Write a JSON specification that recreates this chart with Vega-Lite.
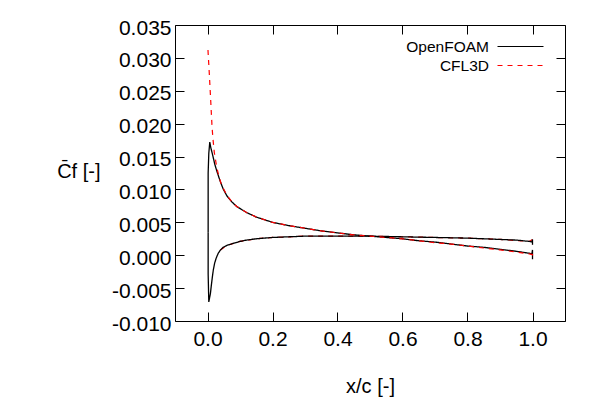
{
  "$schema": "https://vega.github.io/schema/vega-lite/v6.json",
  "width": 390,
  "height": 296,
  "autosize": "none",
  "padding": {"left": 175, "top": 25, "right": 35, "bottom": 79},
  "background": "white",
  "data": {"values": [
    {"src": "OpenFOAM", "surf": "upper", "i": 0, "x": 0.002, "cf": 0.0035},
    {"src": "OpenFOAM", "surf": "upper", "i": 1, "x": 0.002, "cf": 0.0125},
    {"src": "OpenFOAM", "surf": "upper", "i": 2, "x": 0.004, "cf": 0.0155},
    {"src": "OpenFOAM", "surf": "upper", "i": 3, "x": 0.007, "cf": 0.0172},
    {"src": "OpenFOAM", "surf": "upper", "i": 4, "x": 0.010, "cf": 0.0164},
    {"src": "OpenFOAM", "surf": "upper", "i": 5, "x": 0.014, "cf": 0.0156},
    {"src": "OpenFOAM", "surf": "upper", "i": 6, "x": 0.017, "cf": 0.0150},
    {"src": "OpenFOAM", "surf": "upper", "i": 7, "x": 0.022, "cf": 0.0139},
    {"src": "OpenFOAM", "surf": "upper", "i": 8, "x": 0.028, "cf": 0.0129},
    {"src": "OpenFOAM", "surf": "upper", "i": 9, "x": 0.038, "cf": 0.0114},
    {"src": "OpenFOAM", "surf": "upper", "i": 10, "x": 0.048, "cf": 0.0101},
    {"src": "OpenFOAM", "surf": "upper", "i": 11, "x": 0.06, "cf": 0.0090},
    {"src": "OpenFOAM", "surf": "upper", "i": 12, "x": 0.075, "cf": 0.0081},
    {"src": "OpenFOAM", "surf": "upper", "i": 13, "x": 0.09, "cf": 0.0074},
    {"src": "OpenFOAM", "surf": "upper", "i": 14, "x": 0.12, "cf": 0.0065},
    {"src": "OpenFOAM", "surf": "upper", "i": 15, "x": 0.15, "cf": 0.0058},
    {"src": "OpenFOAM", "surf": "upper", "i": 16, "x": 0.2, "cf": 0.0050},
    {"src": "OpenFOAM", "surf": "upper", "i": 17, "x": 0.25, "cf": 0.0045},
    {"src": "OpenFOAM", "surf": "upper", "i": 18, "x": 0.3, "cf": 0.0041},
    {"src": "OpenFOAM", "surf": "upper", "i": 19, "x": 0.35, "cf": 0.0037},
    {"src": "OpenFOAM", "surf": "upper", "i": 20, "x": 0.4, "cf": 0.0034},
    {"src": "OpenFOAM", "surf": "upper", "i": 21, "x": 0.45, "cf": 0.0031},
    {"src": "OpenFOAM", "surf": "upper", "i": 22, "x": 0.5, "cf": 0.0029},
    {"src": "OpenFOAM", "surf": "upper", "i": 23, "x": 0.55, "cf": 0.0027},
    {"src": "OpenFOAM", "surf": "upper", "i": 24, "x": 0.6, "cf": 0.0025},
    {"src": "OpenFOAM", "surf": "upper", "i": 25, "x": 0.65, "cf": 0.0022},
    {"src": "OpenFOAM", "surf": "upper", "i": 26, "x": 0.7, "cf": 0.0020},
    {"src": "OpenFOAM", "surf": "upper", "i": 27, "x": 0.75, "cf": 0.0017},
    {"src": "OpenFOAM", "surf": "upper", "i": 28, "x": 0.8, "cf": 0.0014},
    {"src": "OpenFOAM", "surf": "upper", "i": 29, "x": 0.85, "cf": 0.0012},
    {"src": "OpenFOAM", "surf": "upper", "i": 30, "x": 0.9, "cf": 0.0009},
    {"src": "OpenFOAM", "surf": "upper", "i": 31, "x": 0.95, "cf": 0.0006},
    {"src": "OpenFOAM", "surf": "upper", "i": 32, "x": 0.99, "cf": 0.0003},
    {"src": "OpenFOAM", "surf": "upper", "i": 33, "x": 0.998, "cf": 0.0002},
    {"src": "OpenFOAM", "surf": "upper", "i": 34, "x": 1.0, "cf": 0.0008},
    {"src": "OpenFOAM", "surf": "upper", "i": 35, "x": 1.0, "cf": -0.0006},
    {"src": "OpenFOAM", "surf": "lower", "i": 0, "x": 0.002, "cf": 0.0035},
    {"src": "OpenFOAM", "surf": "lower", "i": 1, "x": 0.002, "cf": -0.0028},
    {"src": "OpenFOAM", "surf": "lower", "i": 2, "x": 0.003, "cf": -0.0050},
    {"src": "OpenFOAM", "surf": "lower", "i": 3, "x": 0.004, "cf": -0.0071},
    {"src": "OpenFOAM", "surf": "lower", "i": 4, "x": 0.006, "cf": -0.0066},
    {"src": "OpenFOAM", "surf": "lower", "i": 5, "x": 0.009, "cf": -0.0058},
    {"src": "OpenFOAM", "surf": "lower", "i": 6, "x": 0.012, "cf": -0.0045},
    {"src": "OpenFOAM", "surf": "lower", "i": 7, "x": 0.015, "cf": -0.0033},
    {"src": "OpenFOAM", "surf": "lower", "i": 8, "x": 0.018, "cf": -0.0022},
    {"src": "OpenFOAM", "surf": "lower", "i": 9, "x": 0.022, "cf": -0.0012},
    {"src": "OpenFOAM", "surf": "lower", "i": 10, "x": 0.027, "cf": -0.0004},
    {"src": "OpenFOAM", "surf": "lower", "i": 11, "x": 0.033, "cf": 0.0003},
    {"src": "OpenFOAM", "surf": "lower", "i": 12, "x": 0.04, "cf": 0.0008},
    {"src": "OpenFOAM", "surf": "lower", "i": 13, "x": 0.048, "cf": 0.0012},
    {"src": "OpenFOAM", "surf": "lower", "i": 14, "x": 0.06, "cf": 0.0015},
    {"src": "OpenFOAM", "surf": "lower", "i": 15, "x": 0.079, "cf": 0.0018},
    {"src": "OpenFOAM", "surf": "lower", "i": 16, "x": 0.1, "cf": 0.0021},
    {"src": "OpenFOAM", "surf": "lower", "i": 17, "x": 0.12, "cf": 0.0023},
    {"src": "OpenFOAM", "surf": "lower", "i": 18, "x": 0.15, "cf": 0.0025},
    {"src": "OpenFOAM", "surf": "lower", "i": 19, "x": 0.2, "cf": 0.0027},
    {"src": "OpenFOAM", "surf": "lower", "i": 20, "x": 0.25, "cf": 0.0028},
    {"src": "OpenFOAM", "surf": "lower", "i": 21, "x": 0.3, "cf": 0.0029},
    {"src": "OpenFOAM", "surf": "lower", "i": 22, "x": 0.4, "cf": 0.0029},
    {"src": "OpenFOAM", "surf": "lower", "i": 23, "x": 0.5, "cf": 0.0029},
    {"src": "OpenFOAM", "surf": "lower", "i": 24, "x": 0.6, "cf": 0.0028},
    {"src": "OpenFOAM", "surf": "lower", "i": 25, "x": 0.7, "cf": 0.0027},
    {"src": "OpenFOAM", "surf": "lower", "i": 26, "x": 0.8, "cf": 0.0026},
    {"src": "OpenFOAM", "surf": "lower", "i": 27, "x": 0.9, "cf": 0.0024},
    {"src": "OpenFOAM", "surf": "lower", "i": 28, "x": 0.95, "cf": 0.0023},
    {"src": "OpenFOAM", "surf": "lower", "i": 29, "x": 0.99, "cf": 0.0021},
    {"src": "OpenFOAM", "surf": "lower", "i": 30, "x": 0.998, "cf": 0.0020},
    {"src": "OpenFOAM", "surf": "lower", "i": 31, "x": 1.0, "cf": 0.0024},
    {"src": "OpenFOAM", "surf": "lower", "i": 32, "x": 1.0, "cf": 0.0016},
    {"src": "CFL3D", "surf": "upper", "i": 0, "x": 0.0015, "cf": 0.0312},
    {"src": "CFL3D", "surf": "upper", "i": 1, "x": 0.002, "cf": 0.0307},
    {"src": "CFL3D", "surf": "upper", "i": 2, "x": 0.004, "cf": 0.0290},
    {"src": "CFL3D", "surf": "upper", "i": 3, "x": 0.006, "cf": 0.0272},
    {"src": "CFL3D", "surf": "upper", "i": 4, "x": 0.008, "cf": 0.0253},
    {"src": "CFL3D", "surf": "upper", "i": 5, "x": 0.010, "cf": 0.0234},
    {"src": "CFL3D", "surf": "upper", "i": 6, "x": 0.012, "cf": 0.0214},
    {"src": "CFL3D", "surf": "upper", "i": 7, "x": 0.014, "cf": 0.0195},
    {"src": "CFL3D", "surf": "upper", "i": 8, "x": 0.017, "cf": 0.0176},
    {"src": "CFL3D", "surf": "upper", "i": 9, "x": 0.021, "cf": 0.0156},
    {"src": "CFL3D", "surf": "upper", "i": 10, "x": 0.028, "cf": 0.0135},
    {"src": "CFL3D", "surf": "upper", "i": 11, "x": 0.035, "cf": 0.0120},
    {"src": "CFL3D", "surf": "upper", "i": 12, "x": 0.043, "cf": 0.0107},
    {"src": "CFL3D", "surf": "upper", "i": 13, "x": 0.06, "cf": 0.0091},
    {"src": "CFL3D", "surf": "upper", "i": 14, "x": 0.075, "cf": 0.0081},
    {"src": "CFL3D", "surf": "upper", "i": 15, "x": 0.09, "cf": 0.0074},
    {"src": "CFL3D", "surf": "upper", "i": 16, "x": 0.12, "cf": 0.0065},
    {"src": "CFL3D", "surf": "upper", "i": 17, "x": 0.15, "cf": 0.0058},
    {"src": "CFL3D", "surf": "upper", "i": 18, "x": 0.2, "cf": 0.0050},
    {"src": "CFL3D", "surf": "upper", "i": 19, "x": 0.25, "cf": 0.0045},
    {"src": "CFL3D", "surf": "upper", "i": 20, "x": 0.3, "cf": 0.0041},
    {"src": "CFL3D", "surf": "upper", "i": 21, "x": 0.35, "cf": 0.0037},
    {"src": "CFL3D", "surf": "upper", "i": 22, "x": 0.4, "cf": 0.0034},
    {"src": "CFL3D", "surf": "upper", "i": 23, "x": 0.45, "cf": 0.0031},
    {"src": "CFL3D", "surf": "upper", "i": 24, "x": 0.5, "cf": 0.0029},
    {"src": "CFL3D", "surf": "upper", "i": 25, "x": 0.55, "cf": 0.0027},
    {"src": "CFL3D", "surf": "upper", "i": 26, "x": 0.6, "cf": 0.0025},
    {"src": "CFL3D", "surf": "upper", "i": 27, "x": 0.65, "cf": 0.0022},
    {"src": "CFL3D", "surf": "upper", "i": 28, "x": 0.7, "cf": 0.0019},
    {"src": "CFL3D", "surf": "upper", "i": 29, "x": 0.75, "cf": 0.0017},
    {"src": "CFL3D", "surf": "upper", "i": 30, "x": 0.8, "cf": 0.0014},
    {"src": "CFL3D", "surf": "upper", "i": 31, "x": 0.85, "cf": 0.0011},
    {"src": "CFL3D", "surf": "upper", "i": 32, "x": 0.9, "cf": 0.0008},
    {"src": "CFL3D", "surf": "upper", "i": 33, "x": 0.95, "cf": 0.0005},
    {"src": "CFL3D", "surf": "upper", "i": 34, "x": 0.99, "cf": 0.0002},
    {"src": "CFL3D", "surf": "upper", "i": 35, "x": 1.0, "cf": 0.0001},
    {"src": "CFL3D", "surf": "upper", "i": 36, "x": 1.0, "cf": -0.0006},
    {"src": "CFL3D", "surf": "lower", "i": 0, "x": 0.04, "cf": 0.0008},
    {"src": "CFL3D", "surf": "lower", "i": 1, "x": 0.06, "cf": 0.0015},
    {"src": "CFL3D", "surf": "lower", "i": 2, "x": 0.1, "cf": 0.0021},
    {"src": "CFL3D", "surf": "lower", "i": 3, "x": 0.15, "cf": 0.0025},
    {"src": "CFL3D", "surf": "lower", "i": 4, "x": 0.2, "cf": 0.0027},
    {"src": "CFL3D", "surf": "lower", "i": 5, "x": 0.3, "cf": 0.0029},
    {"src": "CFL3D", "surf": "lower", "i": 6, "x": 0.4, "cf": 0.0029},
    {"src": "CFL3D", "surf": "lower", "i": 7, "x": 0.5, "cf": 0.0029},
    {"src": "CFL3D", "surf": "lower", "i": 8, "x": 0.6, "cf": 0.0028},
    {"src": "CFL3D", "surf": "lower", "i": 9, "x": 0.7, "cf": 0.0027},
    {"src": "CFL3D", "surf": "lower", "i": 10, "x": 0.8, "cf": 0.0026},
    {"src": "CFL3D", "surf": "lower", "i": 11, "x": 0.9, "cf": 0.0024},
    {"src": "CFL3D", "surf": "lower", "i": 12, "x": 0.99, "cf": 0.0021},
    {"src": "CFL3D", "surf": "lower", "i": 13, "x": 1.0, "cf": 0.0024},
    {"src": "CFL3D", "surf": "lower", "i": 14, "x": 1.0, "cf": 0.0016}
  ]},
  "encoding": {
    "x": {"field": "x", "type": "quantitative", "scale": {"domain": [-0.1, 1.1], "nice": false, "zero": false}},
    "y": {"field": "cf", "type": "quantitative", "scale": {"domain": [-0.01, 0.035], "nice": false, "zero": false}},
    "order": {"field": "i", "type": "quantitative"},
    "detail": {"field": "surf", "type": "nominal"},
    "color": {
      "field": "src", "type": "nominal",
      "scale": {"domain": ["OpenFOAM", "CFL3D"], "range": ["#000000", "#ff0000"]},
      "legend": {
        "title": null, "orient": "none", "legendX": 227, "legendY": 13,
        "symbolType": "M-3,0H3", "symbolSize": 235, "symbolStrokeWidth": 1.2,
        "symbolOffset": 110, "labelAlign": "right", "labelOffset": -40,
        "labelFontSize": 15.5, "labelColor": "black", "rowPadding": 2, "padding": 0
      }
    },
    "strokeDash": {
      "field": "src", "type": "nominal",
      "scale": {"domain": ["OpenFOAM", "CFL3D"], "range": [[1, 0], [5, 5]]},
      "legend": {
        "title": null, "orient": "none", "legendX": 227, "legendY": 13,
        "symbolType": "M-3,0H3", "symbolSize": 235, "symbolStrokeWidth": 1.2,
        "symbolOffset": 110, "labelAlign": "right", "labelOffset": -40,
        "labelFontSize": 15.5, "labelColor": "black", "rowPadding": 2, "padding": 0
      }
    }
  },
  "layer": [
    {
      "transform": [{"filter": "datum.src == 'CFL3D' && datum.surf == 'lower'"}],
      "mark": {"type": "line", "strokeWidth": 1.2},
      "encoding": {
        "x": {"field": "x", "type": "quantitative", "axis": null},
        "y": {"field": "cf", "type": "quantitative", "axis": null}
      }
    },
    {
      "transform": [{"filter": "datum.src == 'OpenFOAM'"}],
      "mark": {"type": "line", "strokeWidth": 1.3},
      "encoding": {
        "x": {
          "field": "x", "type": "quantitative", "title": "x/c [-]",
          "axis": {
            "values": [0, 0.2, 0.4, 0.6, 0.8, 1.0], "format": ".1f",
            "labelBaseline": "alphabetic", "labelPadding": 33,
            "titleY": 71, "titleBaseline": "alphabetic"
          }
        },
        "y": {
          "field": "cf", "type": "quantitative", "title": "C\u0304f [-]",
          "axis": {
            "values": [-0.01, -0.005, 0, 0.005, 0.01, 0.015, 0.02, 0.025, 0.03, 0.035],
            "labelExpr": "(datum.value < 0 ? '-' : '') + format(abs(datum.value), '.3f')",
            "labelPadding": 13, "labelOffset": 3,
            "titleAngle": 0, "titleAlign": "right", "titleBaseline": "middle",
            "titleX": -75, "titleY": 146
          }
        }
      }
    },
    {
      "transform": [{"filter": "datum.src == 'CFL3D' && datum.surf == 'upper'"}],
      "mark": {"type": "line", "strokeWidth": 1.2},
      "encoding": {
        "x": {"field": "x", "type": "quantitative", "axis": null},
        "y": {"field": "cf", "type": "quantitative", "axis": null}
      }
    },
    {
      "mark": {"type": "point", "opacity": 0},
      "encoding": {
        "x": {"field": "x", "type": "quantitative", "axis": {"orient": "top", "values": [0, 0.2, 0.4, 0.6, 0.8, 1.0], "labels": false, "grid": false, "domain": false, "title": null}},
        "y": {"field": "cf", "type": "quantitative", "axis": {"orient": "right", "values": [-0.01, -0.005, 0, 0.005, 0.01, 0.015, 0.02, 0.025, 0.03, 0.035], "labels": false, "grid": false, "domain": false, "title": null}},
        "color": {"value": "black"},
        "strokeDash": null
      }
    }
  ],
  "resolve": {"axis": {"x": "independent", "y": "independent"}},
  "config": {
    "font": "Liberation Sans",
    "view": {"stroke": "black", "strokeWidth": 1},
    "axis": {
      "domain": false,
      "grid": true, "gridColor": "#a0a0a0", "gridDash": [1, 3], "gridWidth": 1,
      "ticks": true, "tickSize": -9, "tickColor": "black", "tickWidth": 1,
      "labelFontSize": 21, "labelColor": "black", "labelFont": "Liberation Sans",
      "titleFontSize": 20, "titleColor": "black", "titleFont": "Liberation Sans", "titleFontWeight": "normal"
    }
  }
}
